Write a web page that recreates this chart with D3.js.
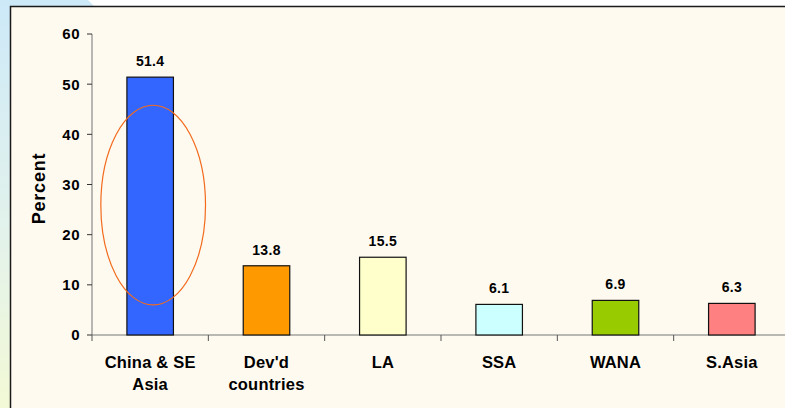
<!DOCTYPE html>
<html>
<head>
<meta charset="utf-8">
<script src="https://cdn.jsdelivr.net/npm/d3@7"></script>
<style>
  html, body { margin: 0; padding: 0; background: #fff; }
  text { font-family: Arial, "Liberation Sans", sans-serif; font-weight: bold; fill: #000; }
</style>
</head>
<body>
<div id="chart"></div>
<script>
const categories = ["China & SE\nAsia", "Dev'd\ncountries", "LA", "SSA", "WANA", "S.Asia"];
const values = [51.4, 13.8, 15.5, 6.1, 6.9, 6.3];
const barColors = ["#3366FF", "#FF9900", "#FFFFCC", "#CCFFFF", "#99CC00", "#FF8080"];
const yTicks = [0, 10, 20, 30, 40, 50, 60];
const yLabel = "Percent";
// highlight ring around the first bar, in data units
const ring = { category: categories[0], yMid: 25.9, yHalf: 19.9 };

const width = 785;
const height = 408;

const svg = d3
  .select("#chart")
  .append("svg")
  .attr("width", width)
  .attr("height", height);

// page backdrop (blue to yellow-green on the left, white top-right)
const defs = svg.append("defs");
const grad = defs
  .append("linearGradient")
  .attr("id", "bg")
  .attr("x1", 0)
  .attr("y1", 0)
  .attr("x2", 0)
  .attr("y2", 1);
grad.append("stop").attr("offset", "0%").attr("stop-color", "#CDE9F8");
grad.append("stop").attr("offset", "55%").attr("stop-color", "#E2F2EC");
grad.append("stop").attr("offset", "100%").attr("stop-color", "#F3F9D6");

svg.append("rect").attr("width", width).attr("height", height).attr("fill", "url(#bg)");
svg
  .append("path")
  .attr("d", `M88,0 L${width},0 L${width},6 L94,6 Z`)
  .attr("fill", "#fff");

// chart box
svg
  .append("rect")
  .attr("x", 10.5)
  .attr("y", 6.5)
  .attr("width", width + 20)
  .attr("height", height + 20)
  .attr("fill", "#FFFAF0")
  .attr("stroke", "#1a1a1a")
  .attr("stroke-width", 1.5);

const x = d3
  .scaleBand()
  .domain(categories)
  .range([92, 790])
  .paddingInner(0.6)
  .paddingOuter(0.3);

const y = d3.scaleLinear().domain([0, 60]).range([335, 34]);

const gap = (x.step() - x.bandwidth()) / 2;

// y axis
const yAxis = svg.append("g");
yAxis
  .append("line")
  .attr("x1", x.range()[0])
  .attr("x2", x.range()[0])
  .attr("y1", y(60))
  .attr("y2", y(0))
  .attr("stroke", "#888")
  .attr("stroke-width", 1.2);

yAxis
  .selectAll("line.tick")
  .data(yTicks)
  .join("line")
  .attr("class", "tick")
  .attr("x1", x.range()[0] - 5)
  .attr("x2", x.range()[0])
  .attr("y1", (d) => y(d))
  .attr("y2", (d) => y(d))
  .attr("stroke", "#333");

yAxis
  .selectAll("text")
  .data(yTicks)
  .join("text")
  .attr("x", 80)
  .attr("y", (d) => y(d))
  .attr("dy", "0.36em")
  .attr("text-anchor", "end")
  .attr("font-size", 15)
  .attr("letter-spacing", 0.5)
  .text((d) => d);

svg
  .append("text")
  .attr("transform", `translate(45, ${y(30) + 4}) rotate(-90)`)
  .attr("text-anchor", "middle")
  .attr("font-size", 18)
  .attr("letter-spacing", 0.8)
  .text(yLabel);

// x axis
const xAxis = svg.append("g");
xAxis
  .append("line")
  .attr("x1", x.range()[0])
  .attr("x2", x.range()[1])
  .attr("y1", y(0))
  .attr("y2", y(0))
  .attr("stroke", "#777")
  .attr("stroke-width", 1.2);

xAxis
  .selectAll("line.tick")
  .data(categories)
  .join("line")
  .attr("class", "tick")
  .attr("x1", (d) => x(d) - gap)
  .attr("x2", (d) => x(d) - gap)
  .attr("y1", y(0))
  .attr("y2", y(0) + 6)
  .attr("stroke", "#555");

// bars
svg
  .selectAll("rect.bar")
  .data(values)
  .join("rect")
  .attr("class", "bar")
  .attr("x", (d, i) => x(categories[i]))
  .attr("y", (d) => y(d))
  .attr("width", x.bandwidth())
  .attr("height", (d) => y(0) - y(d))
  .attr("fill", (d, i) => barColors[i])
  .attr("stroke", "#111")
  .attr("stroke-width", 1.2);

// value labels
svg
  .selectAll("text.value")
  .data(values)
  .join("text")
  .attr("class", "value")
  .attr("x", (d, i) => x(categories[i]) + x.bandwidth() / 2)
  .attr("y", (d) => y(d) - 11)
  .attr("text-anchor", "middle")
  .attr("font-size", 14)
  .attr("letter-spacing", 0.3)
  .text((d) => d.toFixed(1));

// category labels
svg
  .selectAll("text.cat")
  .data(categories)
  .join("text")
  .attr("class", "cat")
  .attr("text-anchor", "middle")
  .attr("font-size", 16.5)
  .attr("letter-spacing", 0.2)
  .selectAll("tspan")
  .data((d) => d.split("\n").map((line) => ({ line, c: d })))
  .join("tspan")
  .attr("x", (d) => x(d.c) + x.bandwidth() / 2)
  .attr("y", (d, i) => y(0) + 33 + i * 22)
  .text((d) => d.line);

// highlight ellipse
svg
  .append("ellipse")
  .attr("cx", x(ring.category) + x.bandwidth() / 2 + 3)
  .attr("cy", y(ring.yMid))
  .attr("rx", x.step() * 0.45)
  .attr("ry", y(0) - y(ring.yHalf))
  .attr("fill", "none")
  .attr("stroke", "#F26B1D")
  .attr("stroke-width", 1.2);
</script>
</body>
</html>
